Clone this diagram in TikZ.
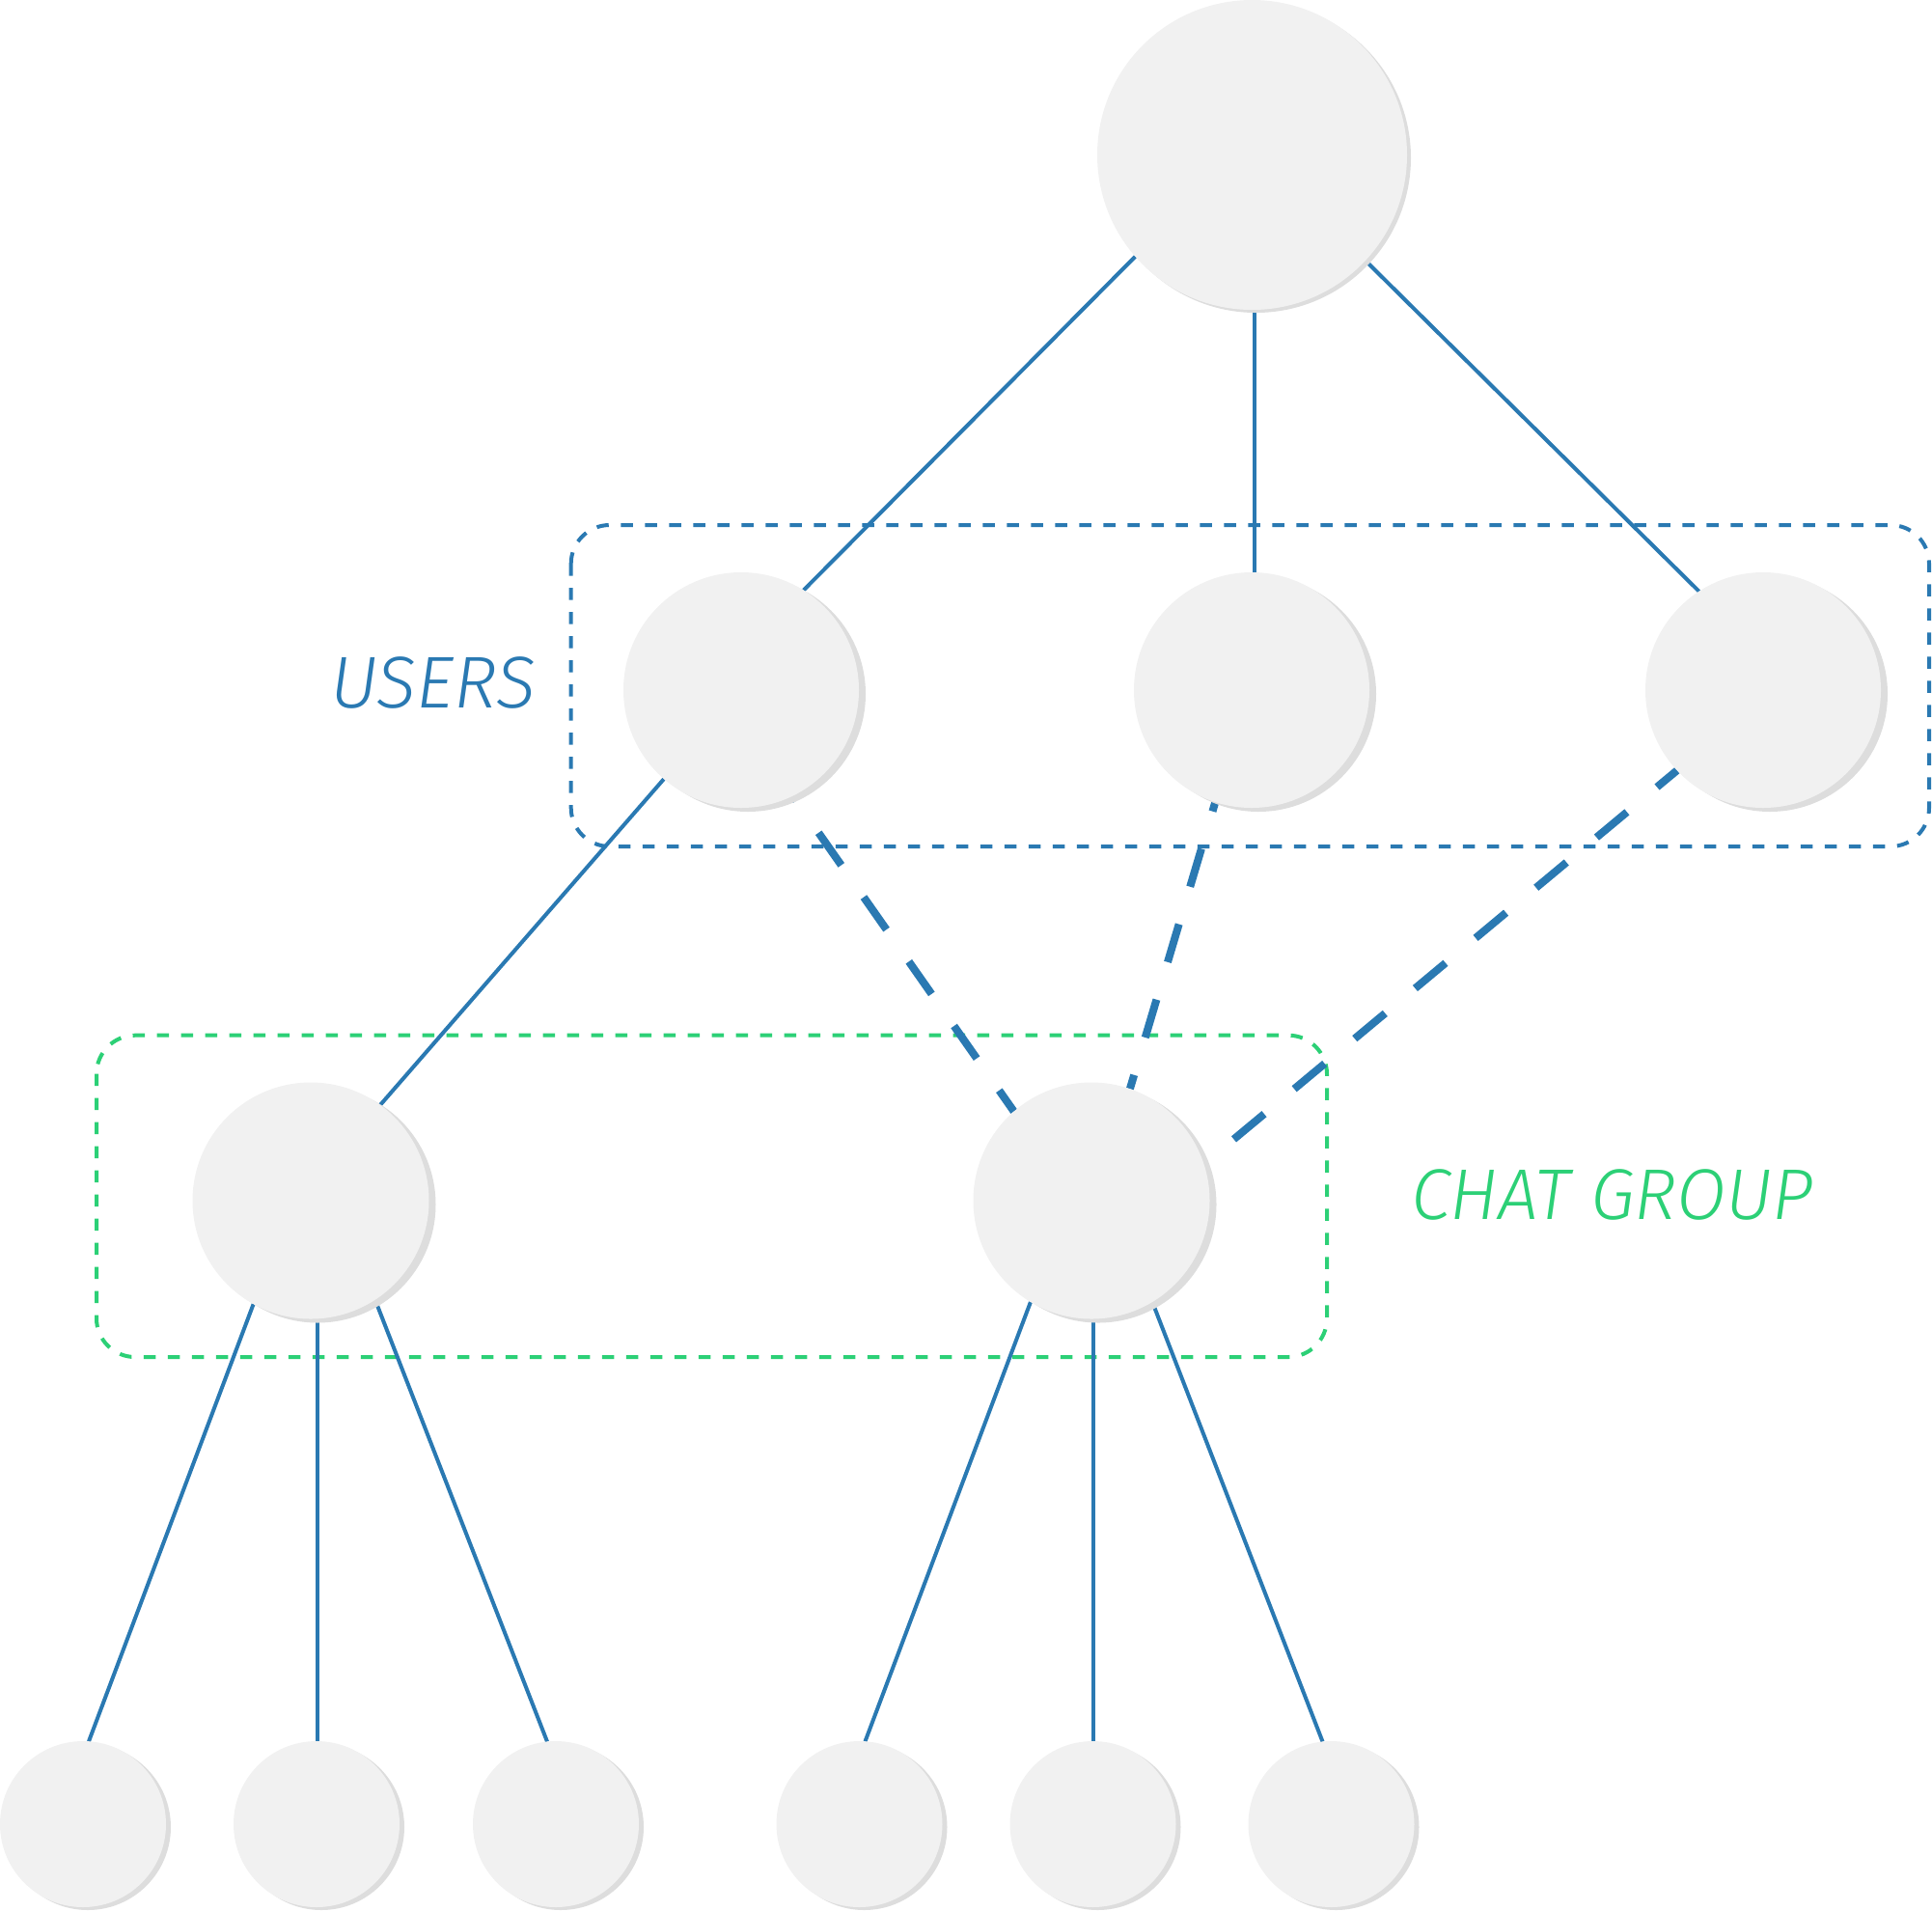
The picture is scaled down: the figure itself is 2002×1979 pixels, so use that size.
\documentclass[tikz,border=0pt]{standalone}
\usepackage{fontspec}
\newfontfamily\labfont{Fira Sans Light Italic}
\usetikzlibrary{shadows}
\definecolor{cblue}{RGB}{42,121,178}
\definecolor{cgreen}{RGB}{44,208,118}
\definecolor{cfill}{RGB}{241,241,241}
\definecolor{cshadow}{RGB}{221,221,221}
\pgfdeclarelayer{bg}
\pgfsetlayers{bg,main}
\begin{document}
\begin{tikzpicture}[x=1pt,y=-1pt,
  disc/.style={circle, fill=cfill, inner sep=0pt, outer sep=0pt, minimum size=#1},
  bigsh/.style={drop shadow={shadow xshift=4pt, shadow yshift=-3pt, fill=cshadow, opacity=1}},
  medsh/.style={drop shadow={shadow xshift=7pt, shadow yshift=-4pt, fill=cshadow, opacity=1}},
  smallsh/.style={drop shadow={shadow xshift=5pt, shadow yshift=-3pt, fill=cshadow, opacity=1}},
  solidlink/.style={draw=cblue, line width=4pt},
  dashlink/.style={draw=cblue, line width=8pt, dash pattern=on 41pt off 40.5pt},
  grouprect/.style={line width=4pt, rounded corners=40pt, dash pattern=on 12.5pt off 12.5pt},
  grouplabel/.style={anchor=base west, inner sep=0pt}]
\useasboundingbox (0,0) rectangle (2002,1979);
% nodes
\node[disc=321pt, bigsh] (top) at (1297.5,160.5) {};
\node[disc=244pt, medsh] (u1) at (768,715) {};
\node[disc=244pt, medsh] (u2) at (1297,715) {};
\node[disc=244pt, medsh] (u3) at (1827,715) {};
\node[disc=245pt, medsh] (c1) at (322,1244) {};
\node[disc=245pt, medsh] (c2) at (1131,1244) {};
\node[disc=172pt, smallsh] (b1) at (86,1890) {};
\node[disc=172pt, smallsh] (b2) at (328,1890) {};
\node[disc=172pt, smallsh] (b3) at (576,1890) {};
\node[disc=172pt, smallsh] (b4) at (890.5,1890) {};
\node[disc=172pt, smallsh] (b5) at (1132.5,1890) {};
\node[disc=172pt, smallsh] (b6) at (1379.5,1890) {};
\node[grouplabel, text=cblue, font=\labfont\fontsize{76}{76}\selectfont] (lusers) at (342,733) {USERS};
\node[grouplabel, text=cgreen, font=\labfont\fontsize{74.5}{74.5}\selectfont] (lchat) at (1462,1263) {CHAT GROUP};
% groups and connectors under the discs
\begin{pgfonlayer}{bg}
\draw[grouprect, draw=cblue] (591.7,544) rectangle (1999,877);
\draw[grouprect, draw=cgreen] (100,1072.7) rectangle (1375,1406);
\draw[solidlink] (top.221.3) -- (u1.58.3);
\coordinate (tv) at ([xshift=2.5pt]top.south);
\draw[solidlink] (tv) -- (tv |- u2.north);
\draw[solidlink] (top.317.5) -- (u3.123.4);
\draw[solidlink] (u1.229.5) -- (c1.54.7);
\draw[solidlink] (c1.241.3) -- (b1.86.3);
\coordinate (c1v) at ([xshift=7pt]c1.south);
\draw[solidlink] (c1v) -- (c1v |- b2.north);
\draw[solidlink] (c1.303.1) -- (b3.96.6);
\draw[solidlink] (c2.239.4) -- (b4.86.9);
\coordinate (c2v) at ([xshift=2.3pt]c2.south);
\draw[solidlink] (c2v) -- (c2v |- b5.north);
\draw[solidlink] (c2.301.1) -- (b6.96.6);
\draw[dashlink, dash phase=34.9pt] (u1.296.9) -- (c2.131.2);
\draw[dashlink, dash phase=31pt] (u2.252.5) -- (c2.71);
\draw[dashlink, dash phase=14pt] (u3.223.4) -- (c2.18.3);
\end{pgfonlayer}
\end{tikzpicture}
\end{document}
